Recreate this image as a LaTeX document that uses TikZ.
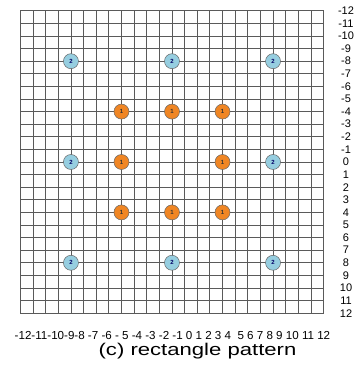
\documentclass[tikz,border=0pt]{standalone}
\usepackage{fontspec}
\setmainfont{Liberation Sans}
\usepackage{xcolor}
\usetikzlibrary{positioning}
\definecolor{ringblue}{RGB}{150, 206, 224}
\definecolor{ringorange}{RGB}{240, 134, 36}
\definecolor{gridgray}{RGB}{90, 90, 90}

\begin{document}
\begin{tikzpicture}[
    x=12.63pt, y=-12.6pt,
    gridline/.style={draw=gridgray, line width=0.8pt},
    dotbox/.style={circle, draw=black!60, line width=0.5pt, minimum size=15pt, inner sep=0pt, font=\fontsize{6}{6}\selectfont\bfseries},
    outerdot/.style={dotbox, fill=ringblue, text=blue!40!black},
    innerdot/.style={dotbox, fill=ringorange, text=black!80},
    ticklabel/.style={font=\fontsize{11}{11}\selectfont, inner sep=0pt}
]
\useasboundingbox (-13.618,-12.857) rectangle (14.727,16.43);

% grid
\foreach \i in {-12,...,12} {
  \draw[gridline] (\i,-12) -- (\i,12);
  \draw[gridline] (-12,\i) -- (12,\i);
}

% right scale
\foreach \i in {-12,...,12}
  \node[ticklabel] (y\i) at (13.78,\i) {\i};

% bottom scale and caption
\node[ticklabel, font=\fontsize{11.6}{11.6}\selectfont] (xscale) at (0.04,13.75) {-12-11-10-9-8 -7 -6 - 5 -4 -3 -2 -1 0 1 2 3 4 \ 5 6 7 8 9 10 11 12};
\node[inner sep=0pt] (caption) at (2.02,15.0) {\scalebox{1.3}[1]{\fontsize{17}{17}\selectfont (c) rectangle pattern}};

% outer ring
\foreach \p [count=\k] in {(-8,-8),(0,-8),(8,-8),(-8,0),(8,0),(-8,8),(0,8),(8,8)}
  \node[outerdot] (o\k) at \p {2};

% inner ring
\foreach \p [count=\k] in {(-4,-4),(0,-4),(4,-4),(-4,0),(4,0),(-4,4),(0,4),(4,4)}
  \node[innerdot] (c\k) at \p {1};

\end{tikzpicture}
\end{document}
